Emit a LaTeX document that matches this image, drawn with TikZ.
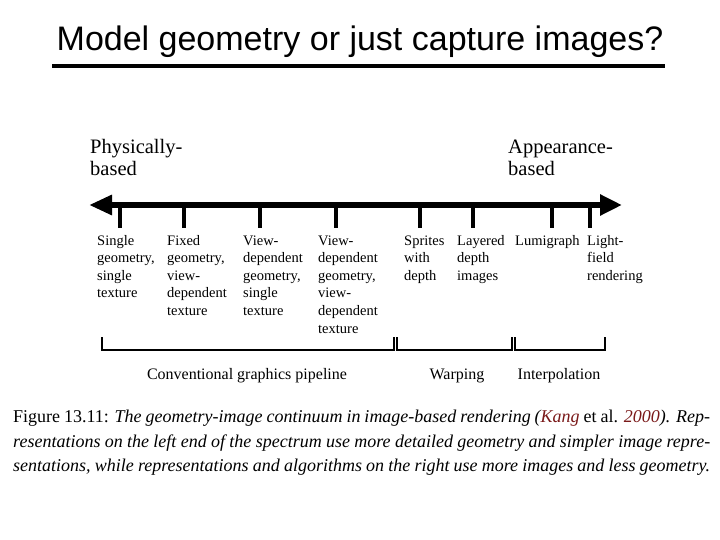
\documentclass[tikz,border=0pt]{standalone}
\usepackage{fontspec}
\setmainfont{Liberation Serif}
\newfontfamily\titlefont{Liberation Sans}
\usetikzlibrary{arrows.meta}
\definecolor{citered}{rgb}{0.48,0.10,0.10}
\newcommand{\stackl}[1]{\begin{tabular}[t]{@{}l@{}}#1\end{tabular}}
\tikzset{
  ticklabel/.style={anchor=base west, inner sep=0pt, font=\fontsize{14.5}{17.6}\selectfont},
  endlabel/.style={anchor=base west, inner sep=0pt, font=\fontsize{20.5}{22}\selectfont},
  grouplabel/.style={anchor=base, inner sep=0pt, font=\fontsize{16}{18}\selectfont},
  tickmark/.style={line width=3.5pt},
  bracket/.style={line width=2pt},
  capline/.style={anchor=base west, inner sep=0pt, font=\fontsize{18}{20}\selectfont}
}
\begin{document}
\begin{tikzpicture}[x=1pt,y=-1pt]
\useasboundingbox (0,0) rectangle (720,540);
% title
\node[anchor=base, inner sep=0pt, font=\titlefont\fontsize{34}{36}\selectfont] (title) at (360,51) {Model geometry or just capture images?};
\coordinate (ulL) at (52,66);
\coordinate (ulR) at (665,66);
\draw[line width=4pt] (ulL) -- (ulR);
% end labels
\node[endlabel] (phys) at (90,154) {\stackl{Physically-\\based}};
\node[endlabel] (appr) at (508,154) {\stackl{Appearance-\\based}};
% axis
\coordinate (axL) at (89,205);
\coordinate (axR) at (622,205);
\draw[line width=6pt, {Triangle[length=23pt,width=19pt]}-{Triangle[length=22pt,width=20pt]}] (axL) -- (axR);
% ticks
\foreach \x/\n in {120/t1,184/t2,260/t3,336/t4,420/t5,473/t6,552/t7,590/t8}{
  \coordinate (\n a) at (\x,205);
  \coordinate (\n b) at (\x,228);
  \draw[tickmark] (\n a) -- (\n b);
}
% tick labels
\node[ticklabel] (l1) at (97,245) {\stackl{Single\\geometry,\\single\\texture}};
\node[ticklabel] (l2) at (167,245) {\stackl{Fixed\\geometry,\\view-\\dependent\\texture}};
\node[ticklabel] (l3) at (243,245) {\stackl{View-\\dependent\\geometry,\\single\\texture}};
\node[ticklabel] (l4) at (318,245) {\stackl{View-\\dependent\\geometry,\\view-\\dependent\\texture}};
\node[ticklabel] (l5) at (404,245) {\stackl{Sprites\\with\\depth}};
\node[ticklabel] (l6) at (457,245) {\stackl{Layered\\depth\\images}};
\node[ticklabel] (l7) at (515,245) {\stackl{Lumigraph}};
\node[ticklabel] (l8) at (587,245) {\stackl{Light-\\field\\rendering}};
% brackets
\coordinate (b1a) at (102,337); \coordinate (b1b) at (394,337);
\coordinate (b2a) at (397,337); \coordinate (b2b) at (512,337);
\coordinate (b3a) at (515,337); \coordinate (b3b) at (605,337);
\draw[bracket] (b1a) -- ++(0,13) -| (b1b);
\draw[bracket] (b2a) -- ++(0,13) -| (b2b);
\draw[bracket] (b3a) -- ++(0,13) -| (b3b);
\node[grouplabel] (g1) at (247,379) {Conventional graphics pipeline};
\node[grouplabel] (g2) at (457,379) {Warping};
\node[grouplabel] (g3) at (559,379) {Interpolation};
% caption
\node[capline] (c1) at (13,422) {\makebox[697pt][s]{Figure 13.11: \textit{The geometry-image continuum in image-based rendering (\textcolor{citered}{Kang}} et al. \textit{\textcolor{citered}{2000}). Rep-}}};
\node[capline] (c2) at (13,447) {\makebox[697pt][s]{\itshape resentations on the left end of the spectrum use more detailed geometry and simpler image repre-}};
\node[capline] (c3) at (13,471) {\makebox[697pt][s]{\itshape sentations, while representations and algorithms on the right use more images and less geometry.}};
\end{tikzpicture}
\end{document}
